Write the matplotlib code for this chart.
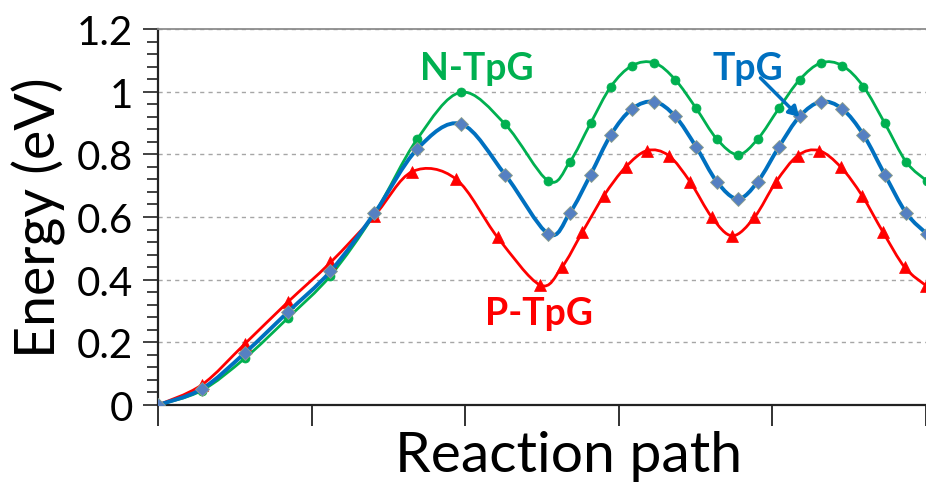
import matplotlib
matplotlib.use("Agg")
import matplotlib.pyplot as plt
import numpy as np
from matplotlib.path import Path
from matplotlib.patches import PathPatch
from matplotlib.ticker import MultipleLocator, FuncFormatter

# ---- data (x in units of major x-tick spacing) ----
x_ntpg = [0, 0.284, 0.565, 0.844, 1.123, 1.409, 1.688, 1.972, 2.260, 2.541,
          2.680, 2.816, 2.948, 3.086, 3.232, 3.368, 3.502, 3.638, 3.775,
          3.905, 4.044, 4.177, 4.316, 4.455, 4.593, 4.732, 4.872, 5.006]
y_ntpg = [0, 0.046, 0.149, 0.277, 0.413, 0.610, 0.849, 0.998, 0.896, 0.715,
          0.775, 0.899, 1.016, 1.083, 1.092, 1.038, 0.948, 0.849, 0.799,
          0.849, 0.948, 1.038, 1.092, 1.083, 1.016, 0.899, 0.775, 0.715]

x_tpg = [0, 0.284, 0.565, 0.844, 1.123, 1.409, 1.688, 1.972, 2.260, 2.541,
         2.680, 2.816, 2.948, 3.086, 3.232, 3.368, 3.502, 3.638, 3.775,
         3.905, 4.044, 4.177, 4.316, 4.455, 4.593, 4.732, 4.872, 5.006]
y_tpg = [0, 0.051, 0.166, 0.296, 0.427, 0.612, 0.817, 0.897, 0.735, 0.546,
         0.612, 0.735, 0.862, 0.945, 0.968, 0.921, 0.825, 0.713, 0.658,
         0.713, 0.825, 0.921, 0.968, 0.945, 0.862, 0.735, 0.612, 0.546]

x_ptpg = [0, 0.284, 0.565, 0.844, 1.123, 1.409, 1.656, 1.940, 2.211, 2.487,
          2.628, 2.762, 2.903, 3.044, 3.184, 3.325, 3.466, 3.606, 3.740,
          3.883, 4.022, 4.165, 4.303, 4.446, 4.584, 4.721, 4.862, 5.0]
y_ptpg = [0, 0.064, 0.195, 0.328, 0.455, 0.604, 0.745, 0.721, 0.535, 0.383,
          0.439, 0.551, 0.668, 0.759, 0.812, 0.796, 0.711, 0.599, 0.540,
          0.599, 0.711, 0.796, 0.812, 0.759, 0.668, 0.551, 0.439, 0.381]

series_labels = ["N-TpG", "TpG", "P-TpG"]
y_ticks = [0, 0.2, 0.4, 0.6, 0.8, 1.0, 1.2]
x_ticks = [0, 1, 2, 3, 4, 5]

GREEN = "#00B050"
BLUE = "#0070C0"
RED = "#FF0000"
DIAMOND = "#5580C2"

FONT = "Lato"
plt.rcParams["font.family"] = [FONT, "DejaVu Sans"]

W, H = 926, 485
fig = plt.figure(figsize=(W / 100, H / 100), dpi=100)
ax = fig.add_axes([158 / W, 1 - 406 / H, 768 / W, 376 / H])


def smooth_path(xs, ys):
    """Excel-style smoothed line: cubic Bezier with Catmull-Rom control points."""
    P = np.column_stack([xs, ys]).astype(float)
    n = len(P)
    verts = [P[0]]
    codes = [Path.MOVETO]
    for i in range(n - 1):
        p0 = P[i - 1] if i > 0 else P[i]
        p1 = P[i]
        p2 = P[i + 1]
        p3 = P[i + 2] if i + 2 < n else P[i + 1]
        c1 = p1 + (p2 - p0) / 6.0
        c2 = p2 - (p3 - p1) / 6.0
        verts += [c1, c2, p2]
        codes += [Path.CURVE4] * 3
    return Path(verts, codes)


def draw_series(xs, ys, color, lw, marker, ms, mfc, mec, mew, z):
    patch = PathPatch(smooth_path(xs, ys), fill=False, edgecolor=color,
                      linewidth=lw, zorder=z, capstyle="round", joinstyle="round")
    ax.add_patch(patch)
    ax.plot(xs, ys, linestyle="none", marker=marker, markersize=ms,
            markerfacecolor=mfc, markeredgecolor=mec, markeredgewidth=mew,
            zorder=z + 0.5)


draw_series(x_ntpg, y_ntpg, GREEN, 2.0, "o", 6.5, GREEN, GREEN, 0.5, 3)
draw_series(x_ptpg, y_ptpg, RED, 2.0, "^", 8.5, RED, RED, 0.5, 4)
draw_series(x_tpg, y_tpg, BLUE, 2.8, "D", 7.5, DIAMOND, "#8FA08A", 0.6, 5)

ax.set_xlim(0, 768 / 154)
ax.set_ylim(0, 1.2)

ax.set_yticks(y_ticks)
ax.yaxis.set_major_formatter(FuncFormatter(lambda v, p: ("%.1f" % v).rstrip("0").rstrip(".")))
ax.yaxis.set_minor_locator(MultipleLocator(0.04))
ax.set_xticks(x_ticks)
ax.set_xticklabels([])

ax.tick_params(axis="y", which="major", direction="out", length=11, width=1.3,
               color="#333333", labelsize=29, pad=7, labelcolor="black")
ax.tick_params(axis="y", which="minor", direction="out", length=8, width=1.3,
               color="#333333")
ax.tick_params(axis="x", which="major", direction="out", length=15, width=1.3,
               color="#222222")

for t in ax.get_yticklabels():
    t.set_fontfamily([FONT, "DejaVu Sans"])

ax.grid(axis="y", which="major", color="#A6A6A6", linestyle=(0, (3, 3)),
        linewidth=1.0, zorder=0)
ax.set_axisbelow(True)

ax.spines["right"].set_visible(False)
ax.spines["left"].set_linewidth(1.6)
ax.spines["left"].set_color("#222222")
ax.spines["bottom"].set_linewidth(1.6)
ax.spines["bottom"].set_color("#222222")
ax.spines["top"].set_linewidth(1.3)
ax.spines["top"].set_color("#8C8C8C")

# axis titles
fig.text(38.5 / W, 1 - 218 / H, "Energy (eV)", rotation=90, ha="center",
         va="center", fontsize=40, color="black")
fig.text(568.5 / W, 1 - 472 / H, "Reaction path", ha="center", va="baseline",
         fontsize=41, color="black")

# series labels
fig.text(476.7 / W, 1 - 80 / H, series_labels[0], ha="center", va="baseline",
         fontsize=27, fontweight="bold", color=GREEN)
fig.text(747.5 / W, 1 - 80 / H, series_labels[1], ha="center", va="baseline",
         fontsize=27, fontweight="bold", color=BLUE)
fig.text(539 / W, 1 - 325 / H, series_labels[2], ha="center", va="baseline",
         fontsize=27, fontweight="bold", color=RED)

# arrow pointing to TpG curve
ax.annotate("", xy=((801 - 158) / 154, (406 - 118) / 313.3),
            xytext=((762 - 158) / 154, (406 - 79) / 313.3),
            arrowprops=dict(arrowstyle="-|>,head_length=0.6,head_width=0.35",
                            color=BLUE, lw=2.5, shrinkA=0, shrinkB=0),
            zorder=7)

fig.savefig("out.png", dpi=100)
